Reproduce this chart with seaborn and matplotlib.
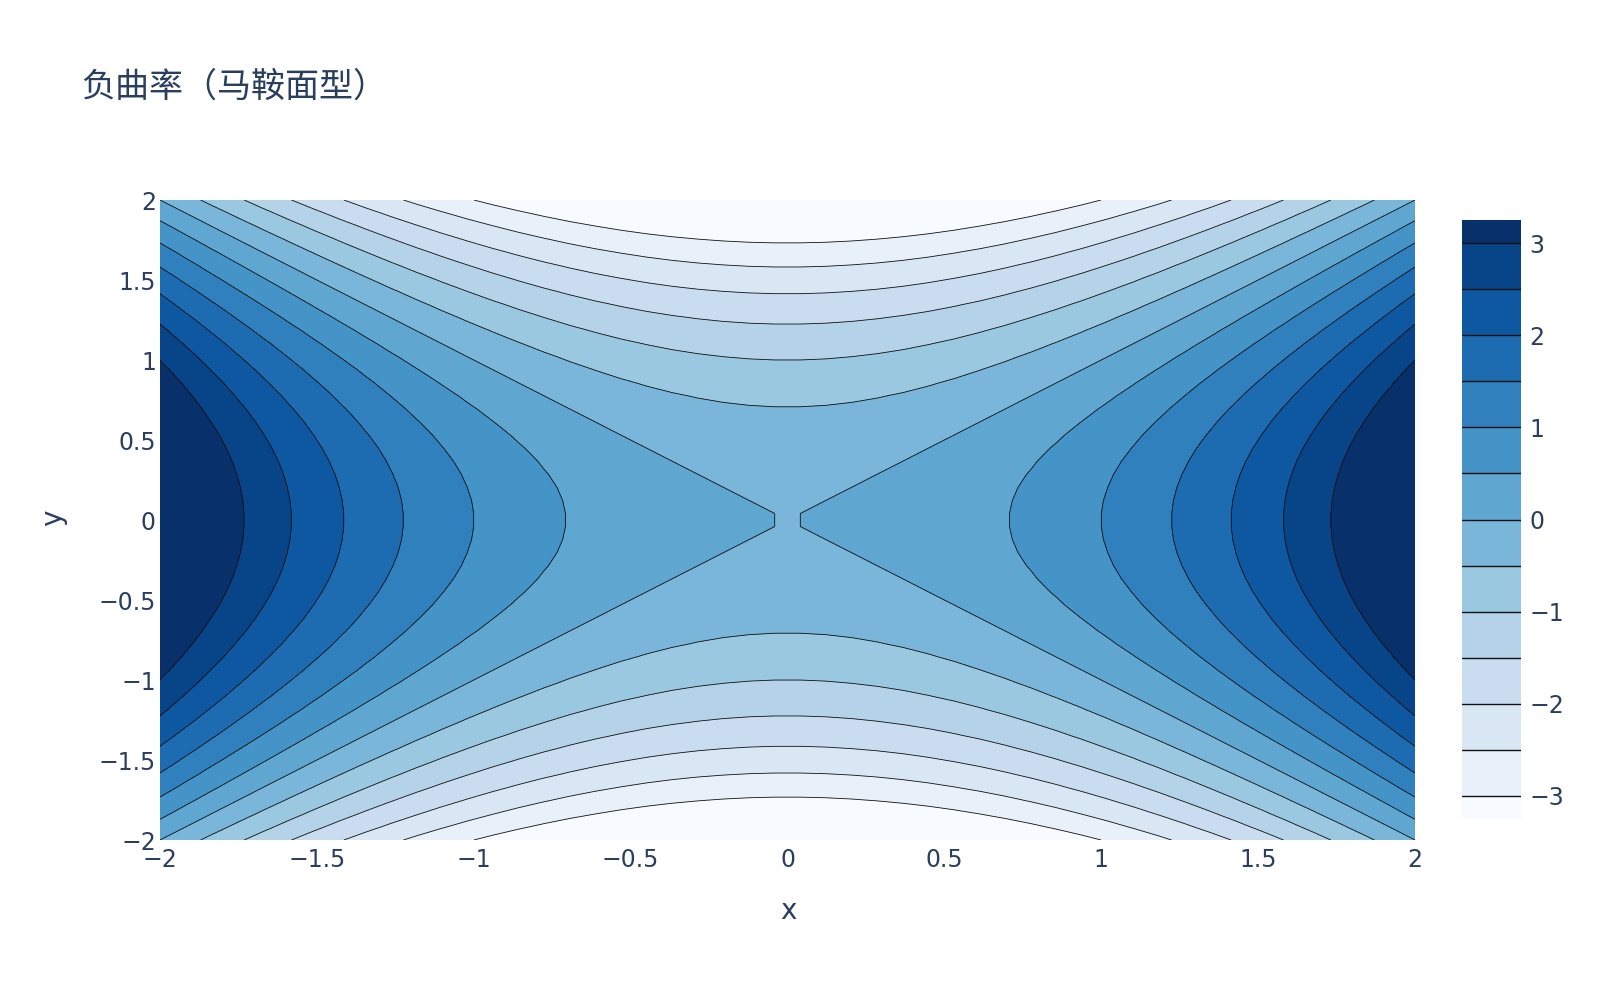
import numpy as np
import matplotlib
matplotlib.use("Agg")
import matplotlib.pyplot as plt
import matplotlib as mpl
from matplotlib.colors import ListedColormap, BoundaryNorm
import seaborn as sns

# ---- data ----
x_vals = np.linspace(-2, 2, 50)
y_vals = np.linspace(-2, 2, 50)
contour_levels = [-3.0, -2.5, -2.0, -1.5, -1.0, -0.5, 0.0, 0.5, 1.0, 1.5, 2.0, 2.5, 3.0]
x_ticks = [-2, -1.5, -1, -0.5, 0, 0.5, 1, 1.5, 2]
x_tick_labels = ["−2", "−1.5", "−1", "−0.5", "0", "0.5", "1", "1.5", "2"]
y_ticks = [-2, -1.5, -1, -0.5, 0, 0.5, 1, 1.5, 2]
y_tick_labels = ["−2", "−1.5", "−1", "−0.5", "0", "0.5", "1", "1.5", "2"]
cbar_ticks = [-3, -2, -1, 0, 1, 2, 3]
cbar_tick_labels = ["−3", "−2", "−1", "0", "1", "2", "3"]
title = "负曲率（马鞍面型）"

X, Y = np.meshgrid(x_vals, y_vals)
Z = X ** 2 - Y ** 2  # saddle surface z = x^2 - y^2

sns.set_theme(style="white")
plt.rcParams['font.family'] = ['DejaVu Sans', 'Noto Sans CJK SC']
plt.rcParams['contour.negative_linestyle'] = 'solid'

text_color = "#2a3f5f"
blues = plt.get_cmap("Blues")
n_bands = len(contour_levels) + 1
band_colors = [blues(i / (n_bands - 1)) for i in range(n_bands)]

fig = plt.figure(figsize=(16, 10), dpi=100)
W, H = 1600, 1000
ax = fig.add_axes([160 / W, 1 - 840 / H, (1415 - 160) / W, (840 - 200) / H])

zmin, zmax = float(Z.min()), float(Z.max())
fill_levels = [zmin - 0.01] + contour_levels + [zmax + 0.01]
ax.contourf(X, Y, Z, levels=fill_levels, colors=band_colors)
ax.contour(X, Y, Z, levels=contour_levels, colors="#111111", linewidths=0.6,
           linestyles="solid")

ax.set_xlim(-2, 2)
ax.set_ylim(-2, 2)
ax.set_xticks(x_ticks)
ax.set_xticklabels(x_tick_labels)
ax.set_yticks(y_ticks)
ax.set_yticklabels(y_tick_labels)
ax.tick_params(axis="both", length=0, labelsize=17, colors=text_color)
ax.tick_params(axis="x", pad=6)
ax.tick_params(axis="y", pad=3)
for s in ax.spines.values():
    s.set_visible(False)
ax.set_xlabel("")
ax.set_ylabel("")

fig.text(788 / W, 1 - 911 / H, "x", ha="center", va="center", fontsize=20, color=text_color)
fig.text(53 / W, 1 - 518 / H, "y", ha="center", va="center", fontsize=20, color=text_color, rotation=90)
fig.text(81 / W, 1 - 87 / H, title, ha="left", va="center", fontsize=24.5, color=text_color,
         family=["Noto Sans CJK SC", "DejaVu Sans"])

# colorbar
half = (contour_levels[1] - contour_levels[0]) / 2
bounds = [contour_levels[0] - half] + contour_levels + [contour_levels[-1] + half]
cmap = ListedColormap(band_colors)
norm = BoundaryNorm(bounds, cmap.N)
cax = fig.add_axes([1462 / W, 1 - 819 / H, 59 / W, 599 / H])
cb = mpl.colorbar.ColorbarBase(cax, cmap=cmap, norm=norm, boundaries=bounds,
                               spacing="proportional", ticks=cbar_ticks)
cb.set_ticklabels(cbar_tick_labels)
cb.outline.set_visible(False)
cax.minorticks_off()
for lv in contour_levels:
    cax.axhline(lv, color="#111111", lw=1.0)
cax.tick_params(which="both", length=0, labelsize=17, colors=text_color, pad=6)

fig.savefig("out.png", dpi=100)
